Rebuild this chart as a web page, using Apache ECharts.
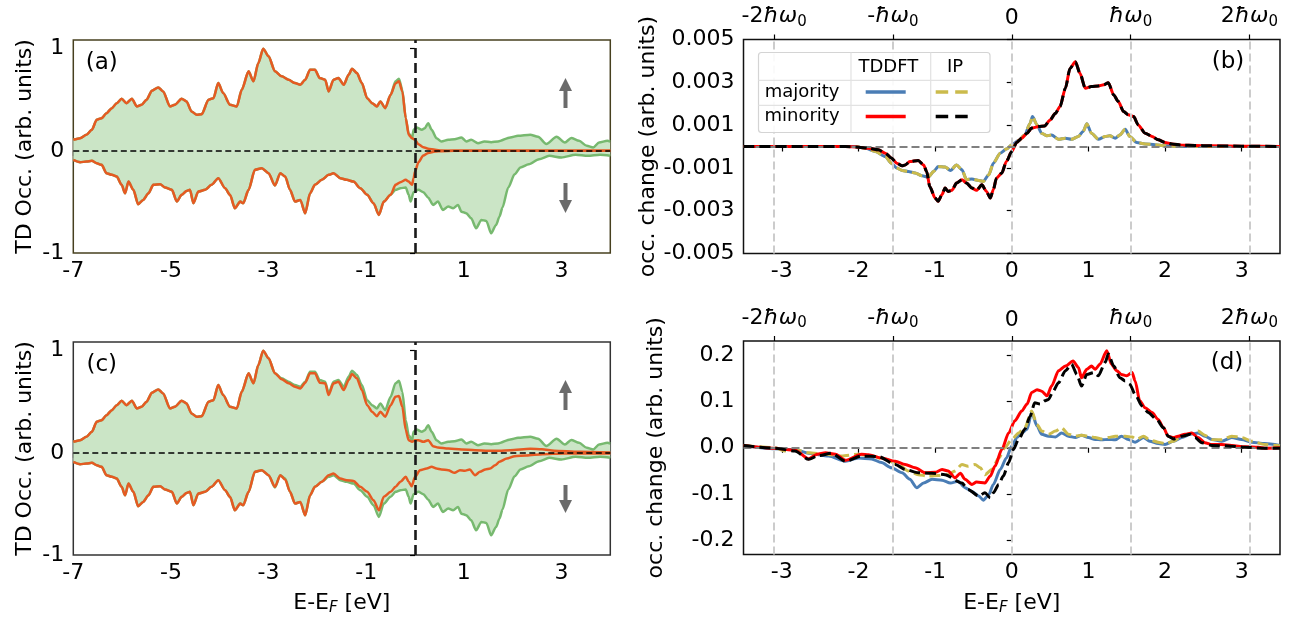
<!DOCTYPE html>
<html>
<head>
<meta charset="utf-8">
<script src="https://cdn.jsdelivr.net/npm/echarts@6/dist/echarts.min.js"></script>
<style>html,body{margin:0;padding:0;background:#fff}#c{width:1302px;height:623px}</style>
</head>
<body>
<div id="c"></div>
<script>
// ---------------- data ----------------
// panels (a),(c): ground-state spin-resolved occupation (green, filled)  [E-EF (eV), value]
const occUp = [[-7.0,0.108],[-6.86,0.124],[-6.73,0.157],[-6.62,0.206],[-6.52,0.304],[-6.42,0.320],[-6.32,0.369],[-6.21,0.418],[-6.11,0.467],[-6.01,0.510],[-5.91,0.467],[-5.80,0.510],[-5.70,0.435],[-5.60,0.451],[-5.50,0.500],[-5.39,0.588],[-5.26,0.621],[-5.16,0.582],[-5.02,0.435],[-4.92,0.451],[-4.78,0.510],[-4.68,0.484],[-4.58,0.386],[-4.47,0.353],[-4.37,0.359],[-4.23,0.500],[-4.13,0.516],[-4.03,0.663],[-3.93,0.565],[-3.79,0.451],[-3.65,0.435],[-3.55,0.598],[-3.41,0.778],[-3.31,0.680],[-3.21,0.859],[-3.11,1.0],[-3.0,0.925],[-2.87,0.78],[-2.73,0.729],[-2.59,0.696],[-2.46,0.663],[-2.35,0.647],[-2.25,0.696],[-2.15,0.794],[-2.05,0.794],[-1.95,0.712],[-1.84,0.696],[-1.77,0.582],[-1.67,0.696],[-1.57,0.712],[-1.46,0.647],[-1.36,0.745],[-1.29,0.804],[-1.19,0.761],[-1.09,0.663],[-0.98,0.516],[-0.88,0.467],[-0.78,0.435],[-0.71,0.484],[-0.61,0.418],[-0.50,0.549],[-0.40,0.68],[-0.33,0.706],[-0.26,0.598],[-0.19,0.32],[-0.13,0.173],[-0.06,0.124],[-0.03,0.206],[0.03,0.229],[0.14,0.206],[0.20,0.222],[0.27,0.271],[0.34,0.206],[0.44,0.124],[0.54,0.092],[0.68,0.108],[0.81,0.114],[0.95,0.131],[1.05,0.092],[1.15,0.108],[1.29,0.075],[1.42,0.092],[1.56,0.085],[1.70,0.092],[1.95,0.131],[2.11,0.147],[2.36,0.157],[2.52,0.138],[2.69,0.066],[2.90,0.138],[3.07,0.082],[3.20,0.125],[3.36,0.098],[3.52,0.049],[3.65,0.033],[3.77,0.082],[3.94,0.098],[4.0,0.09]];
const occDown = [[-7.0,-0.088],[-6.86,-0.111],[-6.73,-0.105],[-6.62,-0.098],[-6.52,-0.121],[-6.42,-0.137],[-6.32,-0.219],[-6.21,-0.235],[-6.11,-0.252],[-6.01,-0.333],[-5.94,-0.415],[-5.87,-0.301],[-5.77,-0.382],[-5.67,-0.523],[-5.57,-0.480],[-5.46,-0.415],[-5.36,-0.333],[-5.22,-0.327],[-5.12,-0.359],[-4.98,-0.382],[-4.88,-0.497],[-4.78,-0.431],[-4.68,-0.392],[-4.61,-0.382],[-4.54,-0.513],[-4.44,-0.399],[-4.30,-0.382],[-4.17,-0.333],[-4.03,-0.268],[-3.89,-0.366],[-3.79,-0.431],[-3.69,-0.562],[-3.58,-0.497],[-3.52,-0.513],[-3.41,-0.382],[-3.28,-0.186],[-3.14,-0.170],[-3.0,-0.219],[-2.87,-0.34],[-2.76,-0.219],[-2.66,-0.252],[-2.56,-0.382],[-2.46,-0.497],[-2.35,-0.480],[-2.25,-0.611],[-2.15,-0.415],[-2.05,-0.333],[-1.91,-0.284],[-1.77,-0.235],[-1.67,-0.219],[-1.53,-0.268],[-1.40,-0.284],[-1.26,-0.301],[-1.12,-0.366],[-0.98,-0.431],[-0.85,-0.513],[-0.74,-0.627],[-0.64,-0.497],[-0.50,-0.431],[-0.40,-0.382],[-0.30,-0.366],[-0.19,-0.359],[-0.13,-0.431],[-0.09,-0.497],[-0.03,-0.405],[0.07,-0.382],[0.17,-0.405],[0.27,-0.458],[0.37,-0.529],[0.47,-0.497],[0.57,-0.578],[0.68,-0.546],[0.78,-0.562],[0.88,-0.529],[0.95,-0.595],[1.05,-0.611],[1.15,-0.660],[1.25,-0.758],[1.36,-0.676],[1.46,-0.686],[1.56,-0.807],[1.66,-0.725],[1.73,-0.644],[1.79,-0.556],[1.91,-0.359],[2.04,-0.229],[2.16,-0.163],[2.33,-0.131],[2.54,-0.082],[2.75,-0.049],[3.0,-0.065],[3.29,-0.039],[3.54,-0.049],[3.79,-0.039],[4.0,-0.049]];
// panel (a): TD occupation (orange) – coincides with ground state below these energies
const aSplitUp = -0.45, aSplitDown = -0.55;
const aUpTail = [[-0.40,0.66],[-0.33,0.68],[-0.26,0.582],[-0.19,0.32],[-0.13,0.157],[-0.06,0.124],[0.0,0.108],[0.07,0.065],[0.17,0.036],[0.27,0.02],[0.41,0.01],[0.54,0.003],[0.8,0.0],[4.0,0.0]];
const aDownTail = [[-0.50,-0.431],[-0.40,-0.333],[-0.30,-0.307],[-0.19,-0.284],[-0.13,-0.301],[-0.06,-0.333],[-0.03,-0.268],[0.0,-0.203],[0.07,-0.111],[0.17,-0.046],[0.27,-0.02],[0.41,-0.007],[0.54,-0.003],[0.8,0.0],[4.0,0.0]];
// panel (c): TD occupation (orange)
const cSplit = -2.9;
const cUpRest = [[-2.87,0.78],[-2.73,0.72],[-2.59,0.68],[-2.46,0.647],[-2.35,0.631],[-2.25,0.686],[-2.15,0.778],[-2.05,0.778],[-1.95,0.686],[-1.84,0.68],[-1.77,0.565],[-1.67,0.68],[-1.57,0.696],[-1.46,0.614],[-1.36,0.712],[-1.29,0.771],[-1.19,0.729],[-1.09,0.614],[-0.98,0.467],[-0.88,0.402],[-0.78,0.359],[-0.71,0.402],[-0.61,0.353],[-0.50,0.467],[-0.40,0.549],[-0.33,0.556],[-0.26,0.451],[-0.19,0.222],[-0.13,0.124],[-0.06,0.108],[0.0,0.124],[0.07,0.124],[0.17,0.108],[0.27,0.124],[0.37,0.065],[0.47,0.052],[0.68,0.042],[0.95,0.033],[1.23,0.026],[1.50,0.02],[1.73,0.02],[1.95,0.026],[2.36,0.039],[2.6,0.035],[2.85,0.02],[3.36,0.01],[4.0,0.003]];
const cDownRest = [[-2.87,-0.333],[-2.76,-0.219],[-2.66,-0.262],[-2.56,-0.382],[-2.46,-0.497],[-2.35,-0.480],[-2.25,-0.611],[-2.15,-0.415],[-2.05,-0.333],[-1.91,-0.284],[-1.77,-0.219],[-1.67,-0.203],[-1.53,-0.252],[-1.40,-0.268],[-1.26,-0.275],[-1.12,-0.333],[-0.98,-0.382],[-0.85,-0.464],[-0.74,-0.562],[-0.64,-0.431],[-0.50,-0.382],[-0.40,-0.333],[-0.30,-0.284],[-0.19,-0.235],[-0.13,-0.284],[-0.07,-0.327],[0.0,-0.235],[0.10,-0.170],[0.24,-0.154],[0.34,-0.137],[0.44,-0.154],[0.54,-0.163],[0.68,-0.170],[0.81,-0.196],[0.92,-0.170],[1.02,-0.176],[1.12,-0.163],[1.23,-0.219],[1.33,-0.186],[1.44,-0.163],[1.54,-0.154],[1.64,-0.121],[1.73,-0.088],[1.88,-0.056],[2.04,-0.033],[2.28,-0.026],[2.61,-0.013],[3.03,-0.007],[4.0,-0.007]];
// panel (b): occupation change (TDDFT and IP coincide)
const bMajority = [[-3.5,0],[-2.04,0],[-1.91,-0.00008],[-1.78,-0.00023],[-1.65,-0.00047],[-1.57,-0.00078],[-1.5,-0.00101],[-1.43,-0.00112],[-1.35,-0.00117],[-1.26,-0.00124],[-1.17,-0.00137],[-1.09,-0.00143],[-1.02,-0.00117],[-0.96,-0.00093],[-0.87,-0.00096],[-0.8,-0.00112],[-0.72,-0.00086],[-0.65,-0.00109],[-0.59,-0.00155],[-0.52,-0.00152],[-0.43,-0.00159],[-0.37,-0.00163],[-0.3,-0.00132],[-0.24,-0.00078],[-0.15,-0.00031],[-0.07,-0.00012],[0,0.00008],[0.09,0.00028],[0.17,0.00054],[0.24,0.00109],[0.27,0.0014],[0.33,0.00101],[0.39,0.00062],[0.46,0.0005],[0.52,0.00054],[0.61,0.00034],[0.7,0.00039],[0.78,0.00034],[0.87,0.00047],[0.93,0.0007],[0.98,0.00106],[1.04,0.00062],[1.13,0.00034],[1.22,0.00047],[1.28,0.0005],[1.35,0.00039],[1.41,0.00054],[1.48,0.00081],[1.54,0.00047],[1.63,0.00019],[1.74,0.00012],[1.87,0.00008],[2.0,0.00003],[2.2,0],[3.5,0]];
const bMinority = [[-3.5,0],[-2.6,0],[-2.17,0],[-2.0,-0.00003],[-1.87,-0.00008],[-1.74,-0.000155],[-1.65,-0.00031],[-1.57,-0.00054],[-1.5,-0.00078],[-1.43,-0.0009],[-1.39,-0.00086],[-1.33,-0.0007],[-1.22,-0.00065],[-1.15,-0.00086],[-1.11,-0.00117],[-1.07,-0.00187],[-1.0,-0.00241],[-0.96,-0.00256],[-0.91,-0.00225],[-0.87,-0.00194],[-0.83,-0.0021],[-0.78,-0.00205],[-0.72,-0.00171],[-0.65,-0.00155],[-0.59,-0.00171],[-0.52,-0.00194],[-0.46,-0.00205],[-0.39,-0.00179],[-0.33,-0.0021],[-0.28,-0.00241],[-0.24,-0.00202],[-0.2,-0.00148],[-0.13,-0.00124],[-0.07,-0.0007],[0,-0.00023],[0.065,0.00019],[0.13,0.00039],[0.2,0.00062],[0.26,0.00086],[0.35,0.00093],[0.43,0.00096],[0.5,0.00124],[0.57,0.00155],[0.63,0.00187],[0.7,0.00272],[0.76,0.00365],[0.83,0.00396],[0.89,0.00342],[0.96,0.00272],[1.04,0.0028],[1.13,0.00283],[1.2,0.00288],[1.26,0.00298],[1.33,0.00241],[1.39,0.0021],[1.46,0.00163],[1.52,0.00148],[1.59,0.0014],[1.65,0.00101],[1.74,0.00062],[1.83,0.00047],[1.91,0.00031],[2.0,0.00019],[2.09,0.00012],[2.22,0.00006],[2.39,0.00005],[2.6,0.00003],[3.0,0.000015],[3.5,0]];
// panel (d): occupation change
const dMajTDDFT = [[-3.5,0.005],[-3.09,-0.002],[-2.83,-0.004],[-2.65,-0.012],[-2.39,-0.018],[-2.17,-0.029],[-2.0,-0.022],[-1.83,-0.024],[-1.7,-0.032],[-1.57,-0.043],[-1.43,-0.054],[-1.33,-0.068],[-1.24,-0.086],[-1.15,-0.076],[-1.04,-0.068],[-0.91,-0.07],[-0.8,-0.076],[-0.7,-0.072],[-0.61,-0.086],[-0.52,-0.094],[-0.43,-0.104],[-0.37,-0.113],[-0.3,-0.101],[-0.24,-0.079],[-0.15,-0.047],[-0.07,-0.022],[0,0.004],[0.07,0.022],[0.13,0.032],[0.2,0.04],[0.26,0.076],[0.33,0.047],[0.39,0.029],[0.48,0.025],[0.57,0.023],[0.65,0.032],[0.74,0.025],[0.83,0.022],[0.91,0.027],[1.0,0.022],[1.09,0.018],[1.17,0.017],[1.26,0.018],[1.35,0.017],[1.43,0.025],[1.52,0.018],[1.61,0.012],[1.72,0.022],[1.8,0.014],[1.91,0.009],[2.0,0.007],[2.11,0.014],[2.22,0.022],[2.33,0.029],[2.43,0.032],[2.52,0.025],[2.61,0.018],[2.74,0.014],[2.87,0.022],[3.0,0.018],[3.13,0.012],[3.3,0.009],[3.5,0.005]];
const dMajIP = [[-3.5,0.005],[-3.09,0],[-2.96,-0.007],[-2.83,-0.004],[-2.65,-0.011],[-2.43,-0.014],[-2.22,-0.018],[-2.0,-0.014],[-1.83,-0.018],[-1.65,-0.025],[-1.48,-0.036],[-1.35,-0.05],[-1.22,-0.058],[-1.09,-0.061],[-0.96,-0.06],[-0.83,-0.058],[-0.74,-0.05],[-0.65,-0.036],[-0.57,-0.04],[-0.48,-0.036],[-0.41,-0.043],[-0.35,-0.058],[-0.26,-0.047],[-0.17,-0.022],[-0.09,0],[0,0.018],[0.09,0.032],[0.17,0.043],[0.26,0.079],[0.33,0.05],[0.39,0.036],[0.48,0.029],[0.57,0.036],[0.65,0.043],[0.74,0.029],[0.83,0.025],[0.91,0.027],[1.0,0.025],[1.09,0.022],[1.17,0.019],[1.26,0.022],[1.35,0.025],[1.48,0.025],[1.57,0.023],[1.63,0.018],[1.72,0.025],[1.8,0.017],[1.91,0.012],[2.0,0.009],[2.11,0.014],[2.22,0.025],[2.35,0.031],[2.43,0.036],[2.52,0.027],[2.61,0.018],[2.74,0.017],[2.87,0.025],[3.0,0.022],[3.13,0.014],[3.3,0.007],[3.5,0.004]];
const dMinTDDFT = [[-3.5,0.005],[-3.09,-0.001],[-2.83,-0.005],[-2.65,-0.024],[-2.54,-0.014],[-2.43,-0.011],[-2.3,-0.014],[-2.17,-0.027],[-1.96,-0.014],[-1.87,-0.015],[-1.7,-0.022],[-1.52,-0.029],[-1.39,-0.036],[-1.26,-0.043],[-1.13,-0.054],[-1.0,-0.053],[-0.91,-0.047],[-0.83,-0.05],[-0.74,-0.065],[-0.67,-0.055],[-0.61,-0.068],[-0.52,-0.079],[-0.46,-0.074],[-0.35,-0.076],[-0.28,-0.061],[-0.22,-0.04],[-0.13,-0.004],[-0.04,0.032],[0.04,0.058],[0.13,0.079],[0.2,0.094],[0.26,0.119],[0.33,0.125],[0.39,0.122],[0.46,0.112],[0.52,0.133],[0.61,0.166],[0.7,0.176],[0.8,0.187],[0.87,0.173],[0.91,0.151],[0.98,0.169],[1.04,0.176],[1.09,0.169],[1.15,0.18],[1.24,0.209],[1.3,0.18],[1.37,0.166],[1.43,0.158],[1.5,0.155],[1.57,0.162],[1.61,0.144],[1.67,0.101],[1.74,0.086],[1.83,0.076],[1.91,0.061],[1.98,0.043],[2.04,0.025],[2.11,0.022],[2.17,0.025],[2.26,0.029],[2.35,0.032],[2.43,0.022],[2.52,0.011],[2.61,0.007],[2.74,0.007],[2.87,0.005],[3.04,0.002],[3.22,0.001],[3.3,-0.001],[3.5,0]];
const dMinIP = [[-3.5,0.005],[-3.09,-0.001],[-2.83,-0.007],[-2.65,-0.025],[-2.52,-0.017],[-2.35,-0.012],[-2.17,-0.029],[-1.96,-0.018],[-1.74,-0.019],[-1.52,-0.036],[-1.39,-0.047],[-1.22,-0.054],[-1.04,-0.055],[-0.87,-0.058],[-0.65,-0.076],[-0.57,-0.09],[-0.43,-0.104],[-0.35,-0.097],[-0.28,-0.108],[-0.24,-0.097],[-0.17,-0.079],[-0.11,-0.061],[-0.04,-0.032],[0.02,-0.004],[0.09,0.018],[0.17,0.04],[0.24,0.068],[0.3,0.097],[0.37,0.094],[0.43,0.101],[0.48,0.104],[0.54,0.122],[0.61,0.14],[0.7,0.166],[0.78,0.18],[0.85,0.158],[0.91,0.133],[0.98,0.158],[1.07,0.162],[1.13,0.155],[1.22,0.184],[1.26,0.202],[1.33,0.176],[1.41,0.151],[1.48,0.144],[1.54,0.137],[1.61,0.115],[1.7,0.09],[1.78,0.076],[1.89,0.061],[1.98,0.043],[2.04,0.025],[2.11,0.019],[2.22,0.025],[2.33,0.029],[2.39,0.022],[2.48,0.011],[2.61,0.005],[2.83,0.004],[3.04,0.001],[3.3,-0.001],[3.5,-0.001]];
// ticks
const dosXTicks = [-7,-5,-3,-1,1,3];
const dosYTicks = [-1,0,1];
const chgXTicks = [-3,-2,-1,0,1,2,3];
const bYTicks = [-0.005,-0.003,-0.001,0.001,0.003,0.005];
const dYTicks = [-0.2,-0.1,0,0.1,0.2];
const topTickValues = [-3.1,-1.55,0,1.55,3.1];
const topTickLabels = ['-2ħω0','-ħω0','0','ħω0','2ħω0'];
const legendRows = ['majority','minority'];
const legendCols = ['TDDFT','IP'];

// ---------------- chart ----------------
const FONT = 'DejaVu Sans';
const TICK_FS = 22, TITLE_FS = 22;
const C = {green:'#77b96f', fill:'#cbe5c6', orange:'#e65a22', blue:'#4a7db5', olive:'#cbbb4c', red:'#ff0000', black:'#000000'};
const aOrangeUp = occUp.filter(p => p[0] < aSplitUp).concat(aUpTail);
const aOrangeDown = occDown.filter(p => p[0] < aSplitDown).concat(aDownTail);
const cOrangeUp = occUp.filter(p => p[0] < cSplit).concat(cUpRest);
const cOrangeDown = occDown.filter(p => p[0] < cSplit).concat(cDownRest);

const G = [
  {left:73.3, top:40, width:537, height:213, borderColor:'#47401f'},
  {left:73.3, top:342, width:537, height:213, borderColor:'#333'},
  {left:743.5, top:39.5, width:536.5, height:214, borderColor:'#111'},
  {left:743.5, top:341, width:536.5, height:213.5, borderColor:'#111'}
].map(g => Object.assign({show:true, borderWidth:1.5, backgroundColor:'transparent', containLabel:false}, g));

const tickStyle = {length:5, lineStyle:{color:'#000', width:1.2}};
const labStyle = {fontFamily:FONT, fontSize:TICK_FS, color:'#000'};
function xAx(grid, min, max, ticks, pos, extra) {
  return Object.assign({
    type:'value', gridIndex:grid, min:min, max:max, position:pos,
    axisLine:{show:false}, splitLine:{show:false},
    axisTick:Object.assign({show:true, customValues:ticks}, tickStyle),
    axisLabel:Object.assign({customValues:ticks, margin:7}, labStyle)
  }, extra || {});
}
function yAx(grid, min, max, ticks, fmt, name, gap) {
  return {
    type:'value', gridIndex:grid, min:min, max:max,
    axisLine:{show:false}, splitLine:{show:false},
    axisTick:Object.assign({show:true, customValues:ticks}, tickStyle),
    axisLabel:Object.assign({customValues:ticks, margin:9, formatter:fmt}, labStyle),
    name:name, nameLocation:'middle', nameGap:gap, nameRotate:90,
    nameTextStyle:{fontFamily:FONT, fontSize:TITLE_FS, color:'#000'}
  };
}
const topFmt = v => {
  const i = topTickValues.findIndex(t => Math.abs(t - v) < 1e-6);
  const s = i >= 0 ? topTickLabels[i] : '';
  return s.replace('ħω0', '{i|ħω}{s|0}');
};
const topRich = {i:{fontFamily:FONT, fontSize:TICK_FS, fontStyle:'italic', color:'#000'}, s:{fontFamily:FONT, fontSize:15, color:'#000', padding:[11,0,0,0]}};
const xName = 'E-E{f|F} [eV]';
const xNameStyle = {fontFamily:FONT, fontSize:TITLE_FS, color:'#000', rich:{f:{fontFamily:FONT, fontSize:15, fontStyle:'italic', color:'#000', padding:[10,0,0,0]}}};

const xAxis = [
  xAx(0, -7, 4, dosXTicks, 'bottom'),
  xAx(1, -7, 4, dosXTicks, 'bottom', {name:xName, nameLocation:'middle', nameGap:36, nameTextStyle:xNameStyle}),
  xAx(2, -3.5, 3.5, chgXTicks, 'bottom'),
  xAx(2, -3.5, 3.5, topTickValues, 'top'),
  xAx(3, -3.5, 3.5, chgXTicks, 'bottom', {name:xName, nameLocation:'middle', nameGap:36, nameTextStyle:xNameStyle}),
  xAx(3, -3.5, 3.5, topTickValues, 'top')
];
[3, 5].forEach(k => { xAxis[k].axisLabel.formatter = topFmt; xAxis[k].axisLabel.rich = topRich; xAxis[k].axisLabel.margin = 10; });

const yAxis = [
  yAx(0, -1, 1.085, dosYTicks, v => String(Math.round(v)), 'TD Occ. (arb. units)', 37),
  yAx(1, -1, 1.085, dosYTicks, v => String(Math.round(v)), 'TD Occ. (arb. units)', 37),
  yAx(2, -0.005, 0.005, bYTicks, v => v.toFixed(3), 'occ. change (arb. units)', 76),
  yAx(3, -0.23, 0.23, dYTicks, v => v.toFixed(1), 'occ. change (arb. units)', 76)
];

function ln(xi, yi, data, color, width, type, z, extra) {
  return Object.assign({type:'line', xAxisIndex:xi, yAxisIndex:yi, data:data, showSymbol:false, symbol:'none',
    smooth:0.25, smoothMonotone:'x', silent:true, z:z,
    lineStyle:{color:color, width:width, type:type || 'solid', cap:'butt'}}, extra || {});
}
const fillArea = {areaStyle:{color:C.fill, opacity:1, origin:'auto'}};
function refLines(xi, yi, data, z) {
  return {type:'line', xAxisIndex:xi, yAxisIndex:yi, data:data, showSymbol:false, symbol:'none', silent:true, z:z,
    lineStyle:{opacity:0}, markLine:{silent:true, symbol:'none', label:{show:false}, animation:false,
      data:[{yAxis:0, lineStyle:{color:'#000', width:1.6, type:[6,3.5]}}, {xAxis:0, lineStyle:{color:'#1a1a1a', width:2.6, type:[10,5]}}]}};
}
function gridRefs(xi, yi, data, z) {
  return {type:'line', xAxisIndex:xi, yAxisIndex:yi, data:data, showSymbol:false, symbol:'none', silent:true, z:z,
    lineStyle:{opacity:0}, markLine:{silent:true, symbol:'none', label:{show:false}, animation:false,
      data:topTickValues.map(v => ({xAxis:v, lineStyle:{color:'#cccccc', width:2, type:[8,4]}}))
        .concat([{yAxis:0, lineStyle:{color:'#808080', width:2, type:[8,4]}}])}};
}

const series = [
  // (a)
  ln(0,0,occUp,C.green,2.5,'solid',2,fillArea),
  ln(0,0,occDown,C.green,2.5,'solid',2,fillArea),
  ln(0,0,aOrangeUp,C.orange,2.5,'solid',3),
  ln(0,0,aOrangeDown,C.orange,2.5,'solid',3),
  refLines(0,0,occUp,4),
  // (c)
  ln(1,1,occUp,C.green,2.5,'solid',2,fillArea),
  ln(1,1,occDown,C.green,2.5,'solid',2,fillArea),
  ln(1,1,cOrangeUp,C.orange,2.5,'solid',3),
  ln(1,1,cOrangeDown,C.orange,2.5,'solid',3),
  refLines(1,1,occUp,4),
  // (b)
  gridRefs(2,2,bMajority,1),
  ln(2,2,bMajority,C.blue,3,'solid',2),
  ln(2,2,bMajority,C.olive,3,[11,5],3),
  ln(2,2,bMinority,C.red,3,'solid',4),
  ln(2,2,bMinority,C.black,3,[11,5],5),
  // (d)
  gridRefs(4,3,dMajTDDFT,1),
  ln(4,3,dMajTDDFT,C.blue,3,'solid',2),
  ln(4,3,dMajIP,C.olive,3,[11,5],3),
  ln(4,3,dMinTDDFT,C.red,3,'solid',4),
  ln(4,3,dMinIP,C.black,3,[11,5],5)
];

// decorations: panel tags, spin arrows, legend table
const txt = (x, y, s, size, align) => ({type:'text', x:x, y:y, z:100, silent:true,
  style:{text:s, fontFamily:FONT, fontSize:size, fill:'#000', align:align || 'center', verticalAlign:'middle'}});
function arrow(x, y0, y1, up) {
  const head = 13, hw = 6.5, col = '#6b6b6b';
  const tipY = up ? y0 : y1, baseY = up ? y0 + head : y1 - head;
  return [
    {type:'rect', z:100, silent:true, shape:{x:x - 2, y:up ? baseY - 1 : y0, width:4, height:up ? (y1 - baseY + 1) : (baseY - y0 + 1)}, style:{fill:col}},
    {type:'polygon', z:100, silent:true, shape:{points:[[x, tipY],[x - hw, baseY],[x + hw, baseY]]}, style:{fill:col}}
  ];
}
const lg = {x0:758.5, x1:990, y0:52.5, y1:132.5, c1:851, c2:930.7, r1:80.3, r2:105.3};
const lgLine = (xa, xb, y, color, dash) => ({type:'line', z:101, silent:true, shape:{x1:xa, y1:y, x2:xb, y2:y},
  style:{stroke:color, lineWidth:3.5, lineDash:dash || null}});
const graphic = [
  txt(101.7, 63, '(a)', 23), txt(101.7, 365, '(c)', 23),
  txt(1228, 62, '(b)', 23), txt(1227, 363, '(d)', 23),
  ...arrow(565.5, 78, 108, true), ...arrow(565.5, 183, 213, false),
  ...arrow(565.5, 380, 410, true), ...arrow(565.5, 485, 513, false),
  {type:'rect', z:99, silent:true, shape:{x:lg.x0, y:lg.y0, width:lg.x1 - lg.x0, height:lg.y1 - lg.y0, r:3},
    style:{fill:'rgba(255,255,255,0.9)', stroke:'#d4d4d4', lineWidth:1.2}},
  {type:'line', z:100, silent:true, shape:{x1:lg.c1, y1:lg.y0, x2:lg.c1, y2:lg.y1}, style:{stroke:'#e2e2e2', lineWidth:1.2}},
  {type:'line', z:100, silent:true, shape:{x1:lg.c2, y1:lg.y0, x2:lg.c2, y2:lg.y1}, style:{stroke:'#e2e2e2', lineWidth:1.2}},
  {type:'line', z:100, silent:true, shape:{x1:lg.x0, y1:lg.r1, x2:lg.x1, y2:lg.r1}, style:{stroke:'#e2e2e2', lineWidth:1.2}},
  {type:'line', z:100, silent:true, shape:{x1:lg.x0, y1:lg.r2, x2:lg.x1, y2:lg.r2}, style:{stroke:'#e2e2e2', lineWidth:1.2}},
  txt(888.3, 67, legendCols[0], 18), txt(955, 67, legendCols[1], 18),
  txt(802, 92.5, legendRows[0], 18), txt(802, 116.5, legendRows[1], 18),
  lgLine(865.7, 905.7, 92, C.blue), lgLine(935.7, 968, 92, C.olive, [12.5, 7]),
  lgLine(865.7, 905.7, 116.5, C.red), lgLine(935.7, 968, 116.5, C.black, [12.5, 7])
];

const chart = echarts.init(document.getElementById('c'), null, {renderer:'canvas'});
chart.setOption({animation:false, backgroundColor:'#fff', grid:G, xAxis:xAxis, yAxis:yAxis, series:series, graphic:graphic});
</script>
</body>
</html>
